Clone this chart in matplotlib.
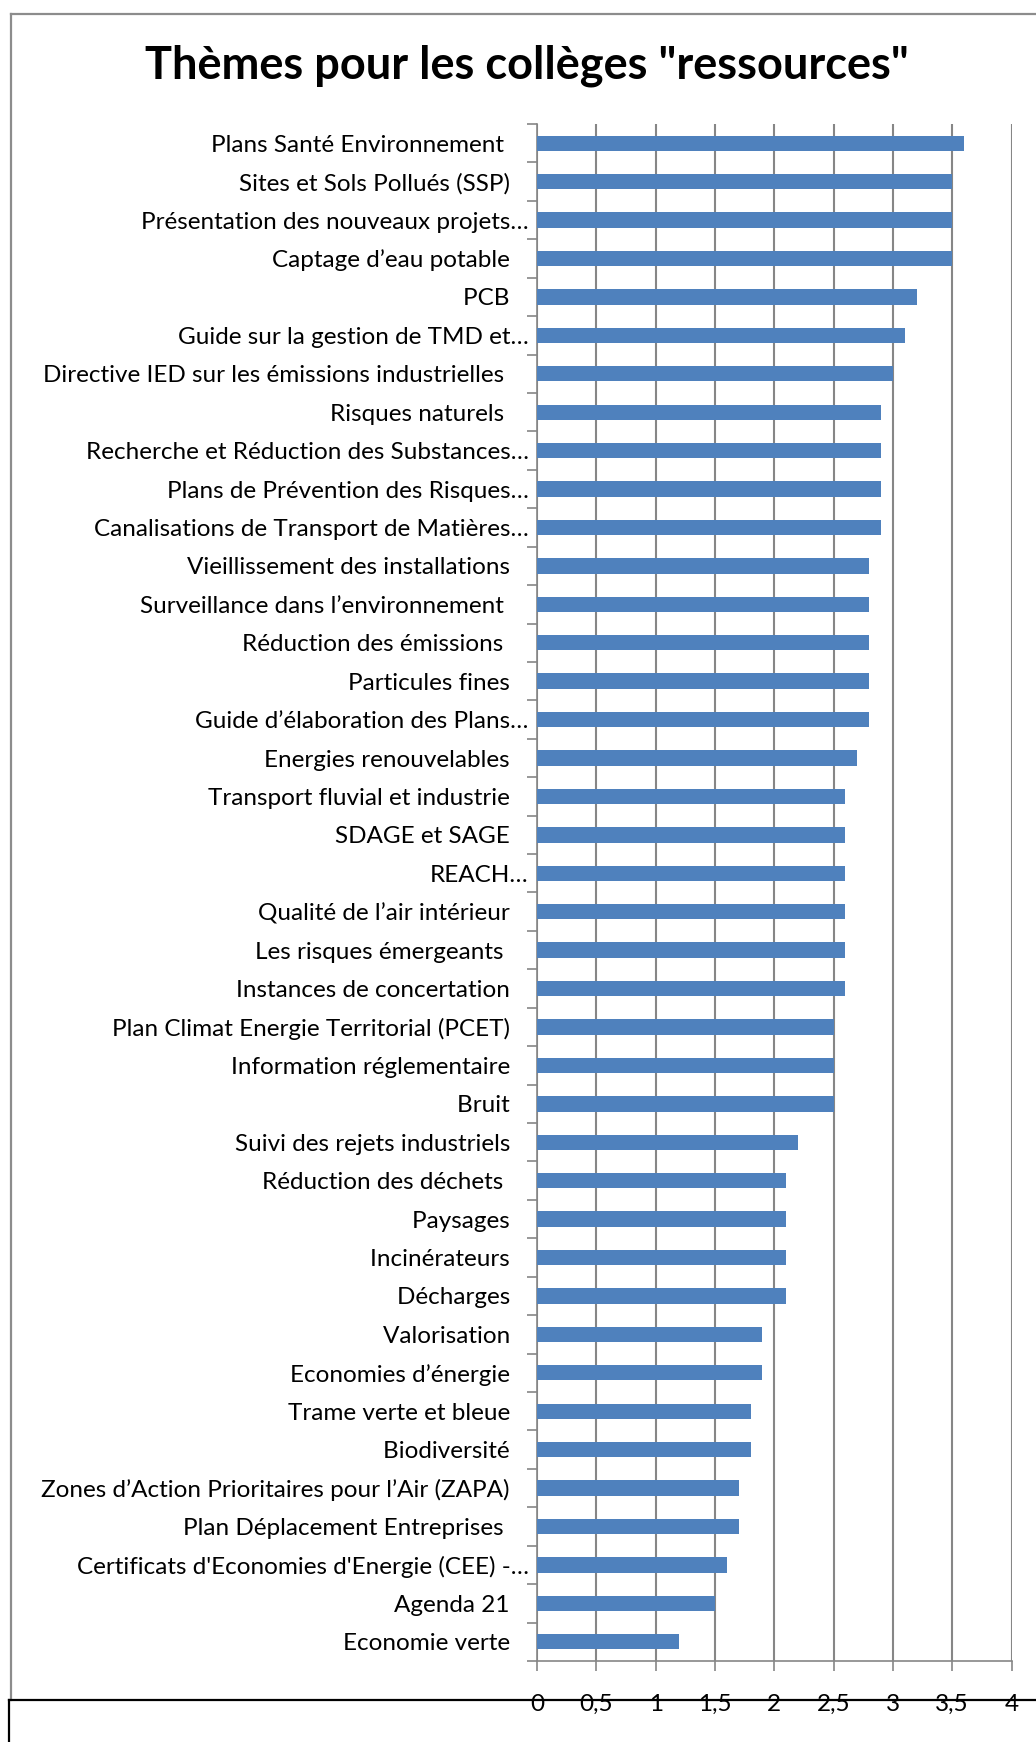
import matplotlib
matplotlib.use("Agg")
import matplotlib.pyplot as plt
from matplotlib.lines import Line2D
import numpy as np

plt.rcParams['font.family'] = ['Lato', 'DejaVu Sans']

# categories top -> bottom, as in the chart
themes = [
    "Plans Santé Environnement    ",
    "Sites et Sols Pollués (SSP)   ",
    "Présentation des nouveaux projets…",
    "Captage d’eau potable   ",
    "PCB   ",
    "Guide sur la gestion de TMD et…",
    "Directive IED sur les émissions industrielles    ",
    "Risques naturels    ",
    "Recherche et Réduction des Substances…",
    "Plans de Prévention des Risques…",
    "Canalisations de Transport de Matières…",
    "Vieillissement des installations   ",
    "Surveillance dans l’environnement    ",
    "Réduction des émissions    ",
    "Particules fines   ",
    "Guide d’élaboration des Plans…",
    "Energies renouvelables   ",
    "Transport fluvial et industrie   ",
    "SDAGE et SAGE   ",
    "REACH…",
    "Qualité de l’air intérieur   ",
    "Les risques émergeants    ",
    "Instances de concertation   ",
    "Plan Climat Energie Territorial (PCET)   ",
    "Information réglementaire   ",
    "Bruit   ",
    "Suivi des rejets industriels   ",
    "Réduction des déchets    ",
    "Paysages   ",
    "Incinérateurs   ",
    "Décharges   ",
    "Valorisation   ",
    "Economies d’énergie   ",
    "Trame verte et bleue   ",
    "Biodiversité   ",
    "Zones d’Action Prioritaires pour l’Air (ZAPA)   ",
    "Plan Déplacement Entreprises    ",
    "Certificats d'Economies d'Energie (CEE) -…",
    "Agenda 21   ",
    "Economie verte   ",
]
scores = [3.6, 3.5, 3.5, 3.5, 3.2, 3.1, 3.0, 2.9, 2.9, 2.9,
          2.9, 2.8, 2.8, 2.8, 2.8, 2.8, 2.7, 2.6, 2.6, 2.6,
          2.6, 2.6, 2.6, 2.5, 2.5, 2.5, 2.2, 2.1, 2.1, 2.1,
          2.1, 1.9, 1.9, 1.8, 1.8, 1.7, 1.7, 1.6, 1.5, 1.2]
xticks = [0, 0.5, 1, 1.5, 2, 2.5, 3, 3.5, 4]
xtick_labels = ["0", "0,5", "1", "1,5", "2", "2,5", "3", "3,5", "4"]

W, H = 1036, 1742
fig = plt.figure(figsize=(W / 100, H / 100), dpi=100)
ax = fig.add_axes([537 / W, 1 - 1661 / H, 474.5 / W, (1661 - 124) / H])

grey = "#868686"
n = len(themes)
pos = np.arange(n)
ax.barh(pos, scores, height=0.4, color="#4F81BD", zorder=3)
ax.set_ylim(n - 0.5, -0.5)
ax.set_xlim(0, 4)

ax.set_yticks(pos)
ax.set_yticklabels(themes, fontsize=17.5)
ax.set_yticks(np.arange(n + 1) - 0.5, minor=True)
ax.tick_params(axis="y", which="major", length=0, pad=6)
ax.tick_params(axis="y", which="minor", length=7, width=1.2, color=grey, direction="out")

ax.set_xticks(xticks)
ax.set_xticklabels(xtick_labels, fontsize=17.5)
ax.tick_params(axis="x", length=7, width=1.2, color=grey, direction="out", pad=17)
ax.grid(axis="x", color=grey, linewidth=1.5, zorder=0)

for s in ["top", "right"]:
    ax.spines[s].set_visible(False)
for s in ["left", "bottom"]:
    ax.spines[s].set_color(grey)
    ax.spines[s].set_linewidth(1.2)

fig.text(527 / W, 1 - 66 / H, "Thèmes pour les collèges \"ressources\"",
         fontsize=32.5, fontweight="bold", ha="center", va="center")

# chart frame (grey) and the edge of the next object (black)
fig.add_artist(Line2D([11 / W, 11 / W], [1 - 14.5 / H, 1 - 1700 / H], color="#8c8c8c", lw=1.6))
fig.add_artist(Line2D([11 / W, 1.0], [1 - 14.5 / H, 1 - 14.5 / H], color="#8c8c8c", lw=1.6))
fig.add_artist(Line2D([9 / W, 1.0], [1 - 1700 / H, 1 - 1700 / H], color="black", lw=1.6))
fig.add_artist(Line2D([9 / W, 9 / W], [1 - 1700 / H, 0], color="black", lw=1.6))

fig.savefig("out.png", dpi=100)
